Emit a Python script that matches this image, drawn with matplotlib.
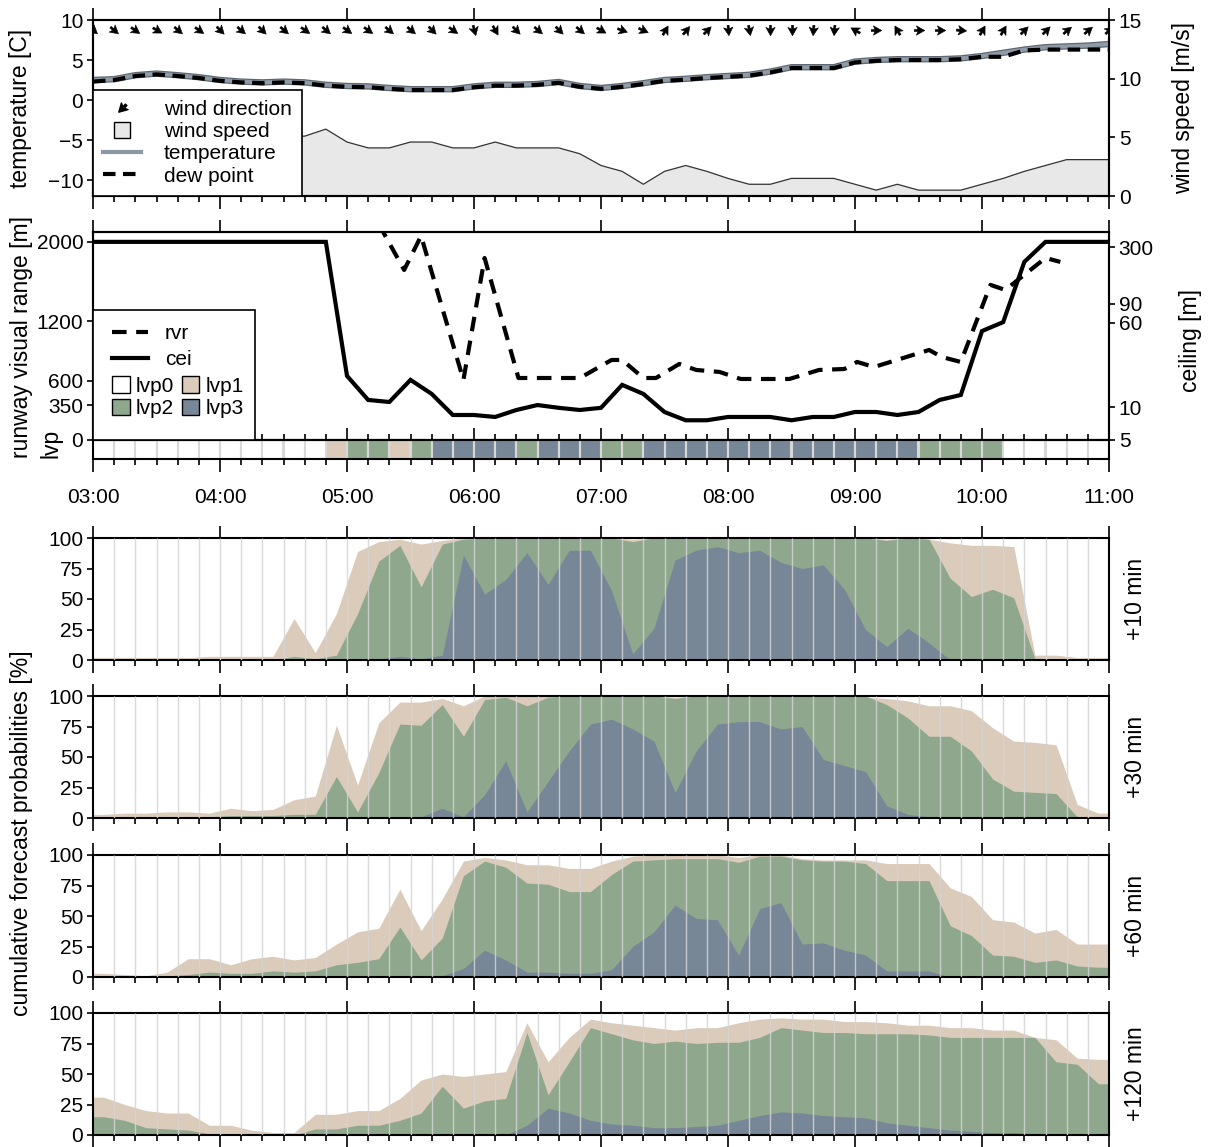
import numpy as np
import matplotlib.pyplot as plt
import matplotlib.patheffects as pe
from matplotlib.path import Path
from matplotlib.markers import MarkerStyle
from matplotlib.transforms import Affine2D
from matplotlib.lines import Line2D
from matplotlib.patches import Patch, Rectangle

plt.rcParams['font.family'] = ['Liberation Sans', 'DejaVu Sans']
plt.rcParams['font.size'] = 15
plt.rcParams['axes.linewidth'] = 1.5

# --- observations, every 10 min from 03:00 to 11:00 ---
hour_labels = ['03:00', '04:00', '05:00', '06:00', '07:00', '08:00', '09:00', '10:00', '11:00']

temperature = [2.5, 2.6, 3.1, 3.3, 3.1, 2.85, 2.5, 2.3, 2.2, 2.3, 2.2, 1.9, 1.75, 1.7, 1.5,
               1.35, 1.35, 1.35, 1.7, 1.9, 1.9, 2.0, 2.25, 1.75, 1.5, 1.75, 2.1, 2.5, 2.65,
               2.85, 3.0, 3.15, 3.55, 4.1, 4.1, 4.1, 4.8, 5.0, 5.1, 5.1, 5.1, 5.2, 5.5, 5.9,
               6.3, 6.6, 6.7, 6.8, 7.0]
dew_point = [2.3, 2.5, 3.0, 3.2, 3.0, 2.75, 2.4, 2.2, 2.1, 2.2, 2.1, 1.8, 1.65, 1.6, 1.4,
             1.25, 1.25, 1.25, 1.6, 1.8, 1.8, 1.9, 2.15, 1.65, 1.4, 1.65, 2.0, 2.4, 2.55,
             2.75, 2.9, 3.05, 3.45, 4.0, 4.0, 4.0, 4.7, 4.9, 5.0, 5.0, 5.0, 5.1, 5.4, 5.4,
             6.2, 6.3, 6.3, 6.3, 6.3]
wind_speed = [5.1, 5.1, 4.6, 5.1, 5.1, 4.6, 5.1, 5.1, 5.1, 5.1, 5.1, 5.7, 4.6, 4.1, 4.1,
              4.6, 4.6, 4.1, 4.1, 4.6, 4.1, 4.1, 4.1, 3.6, 2.6, 2.1, 1.0, 2.1, 2.6, 2.1,
              1.5, 1.0, 1.0, 1.5, 1.5, 1.5, 1.0, 0.5, 1.0, 0.5, 0.5, 0.5, 1.0, 1.5, 2.1,
              2.6, 3.1, 3.1, 3.1]
wind_dir = [310, 310, 305, 300, 310, 305, 315, 310, 315, 310, 305, 310, 305, 305, 310,
            310, 315, 305, 345, 330, 315, 310, 315, 310, 300, 290, 295, 210, 220, 225,
            355, 350, 0, 0, 5, 5, 120, 270, 150, 270, 270, 275, 210, 210, 225, 225, 230,
            230, 230]
cei = [335, 335, 335, 335, 335, 335, 335, 335, 335, 335, 335, 335, 19.5, 11.7, 11.2,
       17.9, 13.3, 8.5, 8.5, 8.15, 9.45, 10.5, 9.9, 9.45, 9.9, 16.1, 13.3, 9.06, 7.6,
       7.6, 8.15, 8.15, 8.15, 7.6, 8.15, 8.15, 9.06, 9.06, 8.5, 9.06, 11.7, 13.0, 50.5,
       61, 219, 335, 335, 335, 335]
rvr_time = ['05:15', '05:27', '05:35', '05:55', '06:05', '06:21', '06:50', '07:05', '07:10',
            '07:20', '07:26', '07:37', '07:45', '07:56', '08:06', '08:29', '08:43', '08:55',
            '09:01', '09:09', '09:35', '09:41', '09:50', '10:04', '10:11', '10:30', '10:37']
rvr = [2180, 1717, 2060, 606, 1838, 626, 626, 808, 808, 626, 626, 768, 707, 687, 616, 616,
       707, 717, 788, 737, 909, 838, 788, 1566, 1515, 1838, 1798]
# observed lvp class for each 10-min interval
lvp_obs = [0, 0, 0, 0, 0, 0, 0, 0, 0, 0, 0, 1, 2, 2, 1, 2, 3, 3, 3, 3, 2, 3, 3, 3,
           2, 2, 3, 3, 3, 3, 3, 3, 3, 3, 3, 3, 3, 3, 3, 2, 2, 2, 2, 0, 0, 0, 0, 0]

# --- cumulative forecast probabilities [%] per 10-min interval (P>=lvp1, P>=lvp2, P=lvp3) ---
lead_labels = ['+10 min', '+30 min', '+60 min', '+120 min']
p10_ge1 = [2, 2, 2, 2, 2, 3, 3, 3, 3, 34, 6, 38, 89, 97, 99, 95, 98, 100, 100, 100, 100, 100, 100, 100,
           100, 99, 100, 100, 100, 100, 100, 100, 100, 100, 100, 100, 100, 99, 100, 99, 96, 94, 94, 93, 4, 4, 2, 2]
p10_ge2 = [0, 0, 0, 0, 0, 0, 0, 0, 0, 3, 1, 4, 38, 81, 94, 60, 95, 99, 100, 100, 100, 100, 100, 100,
           100, 97, 100, 100, 100, 100, 100, 100, 100, 100, 100, 100, 100, 98, 100, 99, 67, 52, 58, 51, 1, 0, 0, 0]
p10_3 = [0, 0, 0, 0, 0, 0, 0, 0, 0, 0, 0, 0, 0, 1, 3, 1, 4, 86, 54, 66, 88, 62, 90, 90,
         57, 5, 26, 82, 90, 93, 88, 90, 80, 75, 78, 58, 25, 11, 26, 14, 0, 0, 0, 0, 0, 0, 0, 0]

p30_ge1 = [3, 4, 4, 5, 5, 4, 8, 6, 7, 15, 18, 76, 27, 78, 95, 95, 98, 92, 100, 100, 100, 100, 100, 100,
           100, 100, 100, 99, 100, 100, 100, 100, 100, 100, 100, 100, 99, 98, 96, 92, 92, 88, 74, 63, 62, 60, 11, 4]
p30_ge2 = [1, 1, 1, 1, 1, 1, 2, 2, 2, 3, 3, 34, 5, 37, 77, 76, 93, 67, 97, 99, 92, 99, 100, 100,
           100, 100, 100, 98, 100, 100, 100, 100, 100, 100, 100, 100, 100, 93, 82, 67, 67, 55, 32, 22, 21, 20, 1, 0]
p30_3 = [0, 0, 0, 0, 0, 0, 0, 0, 0, 0, 0, 0, 0, 0, 1, 1, 8, 1, 19, 47, 5, 30, 55, 77,
         81, 73, 63, 21, 55, 77, 79, 79, 73, 75, 48, 43, 38, 10, 3, 1, 0, 0, 0, 0, 0, 0, 0, 0]

p60_ge1 = [3, 2, 1, 4, 15, 15, 10, 15, 17, 14, 16, 27, 37, 40, 72, 38, 64, 95, 98, 96, 92, 92, 89, 89,
           95, 99, 100, 100, 100, 100, 98, 100, 100, 97, 96, 96, 96, 93, 93, 93, 73, 66, 47, 45, 36, 39, 27, 27]
p60_ge2 = [1, 1, 1, 1, 2, 4, 3, 3, 5, 4, 5, 10, 12, 15, 41, 14, 32, 83, 95, 90, 77, 76, 70, 70,
           84, 95, 96, 97, 97, 97, 94, 99, 99, 96, 95, 95, 93, 79, 79, 79, 42, 34, 18, 17, 12, 14, 9, 8]
p60_3 = [0, 0, 0, 0, 0, 0, 0, 0, 0, 0, 0, 0, 0, 0, 0, 0, 1, 7, 22, 14, 4, 4, 3, 3,
         6, 25, 37, 59, 48, 47, 18, 56, 61, 27, 28, 22, 18, 5, 5, 5, 0, 0, 0, 0, 0, 0, 0, 0]

p120_ge1 = [31, 25, 20, 18, 18, 8, 8, 4, 2, 2, 17, 17, 20, 20, 30, 45, 50, 48, 50, 52, 92, 60, 80, 95,
            92, 90, 88, 86, 88, 88, 92, 95, 96, 95, 95, 93, 93, 92, 90, 90, 88, 88, 86, 86, 80, 78, 63, 62]
p120_ge2 = [15, 12, 6, 5, 4, 1, 1, 0, 0, 0, 5, 5, 8, 8, 12, 18, 40, 22, 28, 30, 84, 33, 60, 88,
            83, 78, 75, 77, 75, 76, 76, 80, 88, 86, 84, 84, 83, 83, 83, 82, 80, 80, 80, 80, 80, 60, 58, 42]
p120_3 = [0, 0, 0, 0, 0, 0, 0, 0, 0, 0, 0, 0, 0, 0, 0, 0, 0, 0, 0, 0, 8, 22, 18, 12,
          9, 8, 6, 6, 7, 8, 12, 16, 19, 18, 16, 15, 14, 10, 8, 6, 4, 3, 2, 2, 1, 0, 0, 0]

lvp_colors = ['white', '#dbcbbb', '#8fa88d', '#788797']

# ---------------------------------------------------------------
W, H = 1211, 1147
fig = plt.figure(figsize=(W / 100, H / 100), dpi=100)


def px_axes(left, top, right, bottom):
    return fig.add_axes([left / W, 1 - bottom / H, (right - left) / W, (bottom - top) / H])


def hh(s):
    h, m = s.split(':')
    return int(h) + int(m) / 60


t_obs = 3 + np.arange(49) / 6
t_fc = np.r_[3, 3 + (np.arange(48) + 0.5) / 6, 11]


def ext(v):
    v = np.asarray(v, float)
    return np.r_[v[0], v, v[-1]]


def style_time(ax, top_minor=False, bottom=True, labels=False):
    ax.set_xlim(3, 11)
    ax.set_xticks(np.arange(3, 12))
    ax.set_xticks(t_obs, minor=True)
    ax.tick_params(axis='x', which='major', direction='out', length=9, width=1.2,
                   top=True, bottom=bottom, labelbottom=labels, labeltop=False, pad=12)
    ax.tick_params(axis='x', which='minor', direction='out', length=4.5, width=1.2,
                   top=top_minor, bottom=bottom)
    if labels:
        ax.set_xticklabels(hour_labels)


def style_y(ax):
    ax.tick_params(axis='y', direction='out', length=4, width=1.2, pad=3)


# arrow marker pointing to +x (short tail, wide head)
arrow = Path([(-0.5, 0.1), (-0.15, 0.1), (-0.3, 0.45), (0.5, 0), (-0.3, -0.45),
              (-0.15, -0.1), (-0.5, -0.1), (-0.5, 0.1)],
             [Path.MOVETO] + [Path.LINETO] * 6 + [Path.CLOSEPOLY])


def arrow_marker(angle):
    return MarkerStyle(arrow, transform=Affine2D().rotate_deg(angle))


# ---- panel 1: temperature / wind ----
ax1 = px_axes(93, 20, 1109, 196)
ax1r = ax1.twinx()
ax1.set_zorder(ax1r.get_zorder() + 1)
ax1.patch.set_visible(False)

ax1r.fill_between(t_obs, 0, wind_speed, facecolor='#e8e8e8', edgecolor='none')
ax1r.plot(t_obs, wind_speed, color='#333333', lw=0.9)
ax1r.set_ylim(0, 15)
ax1r.set_yticks([0, 5, 10, 15])
style_y(ax1r)

temp_fx = [pe.Stroke(linewidth=4.6, foreground='#5d6873'), pe.Normal()]
ax1.plot(t_obs, temperature, color='#8f9ba7', lw=2.8, path_effects=temp_fx)
ax1.plot(t_obs, dew_point, color='k', lw=3, dashes=(3, 1.8))
for t, d in zip(t_obs, wind_dir):
    ax1.plot([t], [8.7], ls='none', marker=arrow_marker(270 - d),
             ms=7.5, mfc='k', mec='k', mew=0.4)
ax1.set_ylim(-12, 10)
ax1.set_yticks([-10, -5, 0, 5, 10])
style_y(ax1)
style_time(ax1, top_minor=False)

h1 = [Line2D([], [], ls='none', color='k', ms=7.5, marker=arrow_marker(225)),
      Line2D([], [], ls='none', marker='s', ms=12, mfc='#e8e8e8', mec='k', mew=1),
      Line2D([], [], color='#8c98a4', lw=3),
      Line2D([], [], color='k', lw=3, dashes=(3, 1.8))]
leg1 = ax1.legend(h1, ['wind direction', 'wind speed', 'temperature', 'dew point'],
                  loc='lower left', bbox_to_anchor=(0, 0), borderaxespad=0, fancybox=False,
                  edgecolor='k', framealpha=1, handlelength=1.8, handletextpad=1.1,
                  labelspacing=0.15, borderpad=0.5, fontsize=15)
leg1.get_frame().set_linewidth(1.2)

# ---- panel 2: rvr / ceiling ----
ax2 = px_axes(93, 232, 1109, 440)
ax2r = ax2.twinx()
ax2.set_zorder(ax2r.get_zorder() + 1)
ax2.patch.set_visible(False)

ax2r.plot(t_obs, cei, color='k', lw=3, solid_joinstyle='miter')
ax2r.set_yscale('log')
ax2r.set_ylim(5, 413)
ax2r.set_yticks([5, 10, 60, 90, 300])
ax2r.set_yticklabels(['5', '10', '60', '90', '300'])
ax2r.yaxis.set_minor_locator(plt.NullLocator())
style_y(ax2r)

ax2.plot([hh(s) for s in rvr_time], rvr, color='k', lw=3, dashes=(3.5, 2.3))
ax2.set_ylim(0, 2100)
ax2.set_yticks([0, 350, 600, 1200, 2000])
style_y(ax2)
style_time(ax2, bottom=False)

ax2.add_patch(Rectangle((0, 0), 162 / 1016, 130 / 208, transform=ax2.transAxes,
                        facecolor='white', edgecolor='k', lw=1.2, zorder=4.9))
la = ax2.legend([Line2D([], [], color='k', lw=3, dashes=(3.5, 2.3)),
                 Line2D([], [], color='k', lw=3)], ['rvr', 'cei'],
                loc='upper left', bbox_to_anchor=(19 / 1016, (440 - 324) / 208),
                borderaxespad=0, borderpad=0, frameon=False, handlelength=1.75,
                handletextpad=0.8, labelspacing=0.35, fontsize=15)
ax2.add_artist(la)
# legend fills columns first: order so rows read lvp0 lvp1 / lvp2 lvp3
lvp_order = [0, 2, 1, 3]
ax2.legend([Patch(facecolor=lvp_colors[i], edgecolor='k', lw=1) for i in lvp_order],
           ['lvp%d' % i for i in lvp_order], ncol=2,
           loc='upper left', bbox_to_anchor=(19 / 1016, (440 - 376) / 208),
           borderaxespad=0, borderpad=0, frameon=False, handlelength=0.85,
           handleheight=0.85, handletextpad=0.3, columnspacing=0.35,
           labelspacing=0.15, fontsize=15)

# ---- lvp strip ----
axl = px_axes(93, 440, 1109, 459)
axl.bar(t_obs[:-1], 1, width=1 / 6, align='edge',
        color=[lvp_colors[v] for v in lvp_obs], edgecolor='#d8d8d8', linewidth=1.5)
axl.set_ylim(0, 1)
axl.set_yticks([])
style_time(axl, top_minor=True, labels=True)

# ---- probability panels ----
fc = [(p10_ge1, p10_ge2, p10_3), (p30_ge1, p30_ge2, p30_3),
      (p60_ge1, p60_ge2, p60_3), (p120_ge1, p120_ge2, p120_3)]
for k, (top, (c1, c2, c3)) in enumerate(zip([538, 696, 855, 1013], fc)):
    ax = px_axes(93, top, 1109, top + 122)
    ax.fill_between(t_fc, 0, ext(c1), color=lvp_colors[1], lw=0)
    ax.fill_between(t_fc, 0, ext(c2), color=lvp_colors[2], lw=0)
    ax.fill_between(t_fc, 0, ext(c3), color=lvp_colors[3], lw=0)
    ax.vlines(t_obs[1:-1], 0, 100, colors='#d4d4d4', lw=1, alpha=0.85, zorder=3)
    ax.set_ylim(0, 100)
    ax.set_yticks([0, 25, 50, 75, 100])
    style_y(ax)
    style_time(ax)
    fig.text(1136 / W, 1 - (top + 61) / H, lead_labels[k], rotation=90,
             ha='center', va='center', fontsize=16.5)

# ---- axis labels ----
fig.text(21 / W, 1 - 108 / H, 'temperature [C]', rotation=90, ha='center', va='center', fontsize=16.5)
fig.text(1184 / W, 1 - 108 / H, 'wind speed [m/s]', rotation=90, ha='center', va='center', fontsize=16.5)
fig.text(22 / W, 1 - 337 / H, 'runway visual range [m]', rotation=90, ha='center', va='center', fontsize=16.5)
fig.text(51 / W, 1 - 443 / H, 'lvp', rotation=90, ha='center', va='center', fontsize=16.5)
fig.text(1190 / W, 1 - 340 / H, 'ceiling [m]', rotation=90, ha='center', va='center', fontsize=16.5)
fig.text(22 / W, 1 - 833 / H, 'cumulative forecast probabilities [%]', rotation=90,
         ha='center', va='center', fontsize=16.5)

fig.savefig('out.png', dpi=100)
